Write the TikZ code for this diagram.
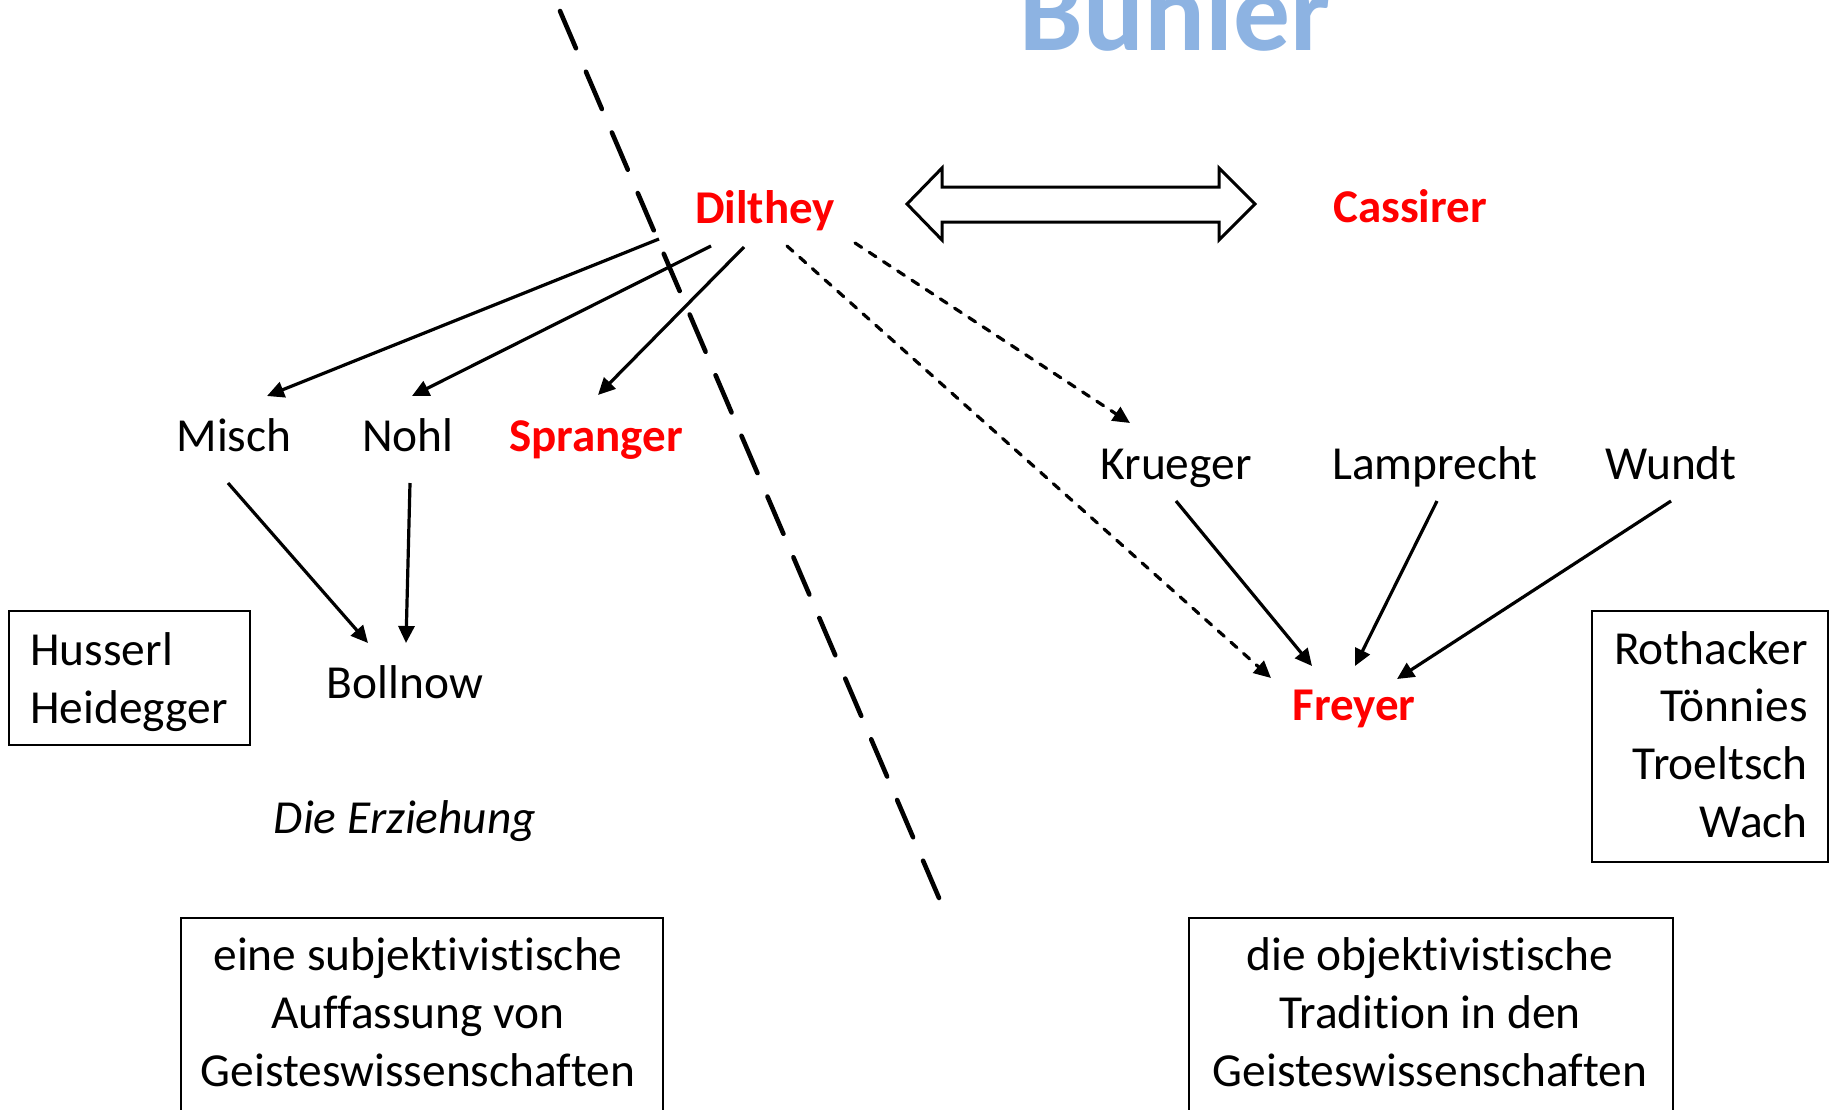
\documentclass[tikz,border=0pt]{standalone}
\usepackage{fontspec}
\setmainfont{Carlito}[Ligatures={NoCommon}]
\usetikzlibrary{calc,arrows.meta}
\definecolor{titleblue}{HTML}{8DB3E2}
\definecolor{namered}{HTML}{FF0000}
\tikzset{
  lbl/.style={anchor=base, inner sep=0pt, font=\fontsize{23.7pt}{28.8pt}\selectfont},
  redlbl/.style={lbl, text=namered, font=\fontsize{23.5pt}{28.8pt}\selectfont\bfseries},
  frame/.style={draw=black, line width=1pt},
  arr/.style={line width=1.6pt, -{Triangle[length=8.5pt,width=8pt]}},
  darr/.style={arr, line cap=round, dash pattern=on 4pt off 4.5pt},
  divider/.style={line width=2.3pt, line cap=round, dash pattern=on 20.25pt off 12.75pt},
  fatarrow/.style={draw=black, line width=1.5pt, line join=miter, fill=white}
}
\begin{document}
\begin{tikzpicture}[x=0.5pt,y=-0.5pt]
\clip (0,0) rectangle (1835,1109);
\fill[white] (0,0) rectangle (1835,1109);

% title
\node[anchor=base, inner sep=0pt, text=titleblue, font=\fontsize{56.75pt}{60pt}\selectfont\bfseries] (title) at (1175,50) {Bühler};

% divider
\draw[divider] (560,11) -- (939,898);

% names
\node[redlbl] (dilthey) at (765,223) {Dilthey};
\node[redlbl] (cassirer) at (1410,222) {Cassirer};
\node[lbl] (misch) at (234,451) {Misch};
\node[lbl] (nohl) at (408,451) {Nohl};
\node[redlbl] (spranger) at (596,451) {Spranger};
\node[lbl] (krueger) at (1176,479) {Krueger};
\node[lbl] (lamprecht) at (1435,479) {Lamprecht};
\node[lbl] (wundt) at (1671,479) {Wundt};
\node[redlbl] (freyer) at (1354,720) {Freyer};
\node[lbl] (bollnow) at (405,698) {Bollnow};
\node[lbl, font=\fontsize{23.7pt}{28.8pt}\selectfont\itshape] (erziehung) at (405,833) {Die Erziehung};

% boxes (base anchor of a multi-line node = baseline of its last line)
\draw[frame] (9,611) rectangle (250,745);
\node[lbl, anchor=base west, align=left] (husserl) at (30,723) {Husserl\\Heidegger};
\draw[frame] (1592,611) rectangle (1828,862);
\node[lbl, anchor=base east, align=right] (rothacker) at (1808,837) {Rothacker\\Tönnies\\Troeltsch\\Wach};
\draw[frame] (181,918) rectangle (663,1140);
\node[lbl, align=center] (subj) at (418,1086) {eine subjektivistische\\Auffassung von\\Geisteswissenschaften};
\draw[frame] (1189,918) rectangle (1673,1140);
\node[lbl, align=center] (obj) at (1430,1086) {die objektivistische\\Tradition in den\\Geisteswissenschaften};

% double arrow between Dilthey and Cassirer
\draw[fatarrow] (907,204) -- (942,168) -- (942,187) -- (1219,187) -- (1219,168) -- (1255,204)
  -- (1219,240) -- (1219,222) -- (942,222) -- (942,240) -- cycle;

% arrows from Dilthey
\draw[arr] ($(dilthey.base)+(-106,16)$) -- ($(misch.base)+(33,-55)$);
\draw[arr] ($(dilthey.base)+(-54,23)$) -- ($(nohl.base)+(4,-55)$);
\draw[arr] ($(dilthey.base)+(-21,24)$) -- ($(spranger.base)+(2,-56)$);
\draw[darr] ($(dilthey.base)+(22,23)$) -- ($(freyer.base)+(-83,-42)$);
\draw[darr] ($(dilthey.base)+(90,20)$) -- ($(krueger.base)+(-46,-56)$);

% to Bollnow
\draw[arr] ($(misch.base)+(-6,32)$) -- ($(bollnow.base)+(-37,-55)$);
\draw[arr] ($(nohl.base)+(2,32)$) -- ($(bollnow.base)+(1,-55)$);

% to Freyer
\draw[arr] ($(krueger.base)+(0,22)$) -- ($(freyer.base)+(-42,-54)$);
\draw[arr] ($(lamprecht.base)+(2,22)$) -- ($(freyer.base)+(1,-54)$);
\draw[arr] ($(wundt.base)+(0,22)$) -- ($(freyer.base)+(43,-41)$);
\end{tikzpicture}
\end{document}
